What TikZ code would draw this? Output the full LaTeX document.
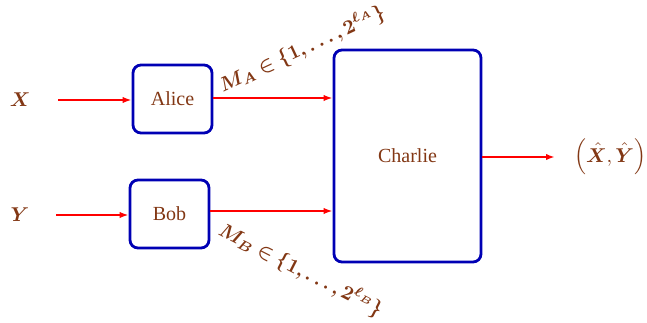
\documentclass[tikz,border=0pt]{standalone}
\usepackage{amsmath,bm}
\usepackage{fontspec}
\setmainfont{Liberation Serif}
\usetikzlibrary{arrows.meta}
\definecolor{txtbrown}{RGB}{130,55,20}
\definecolor{boxblue}{RGB}{0,0,180}
\begin{document}
\begin{tikzpicture}[x=0.5pt,y=-0.5pt,
  blk/.style={draw=boxblue,line width=1.4pt,rounded corners=4pt,text=txtbrown,inner sep=0pt},
  lbl/.style={text=txtbrown,inner sep=1pt},
  arr/.style={draw=red,line width=1.4pt,-{Latex[length=4.5pt,width=3.2pt]}}]
\useasboundingbox (0,0) rectangle (647,322);
\node[blk,minimum width=39.5pt,minimum height=34pt] (alice) at (172.5,99) {Alice};
\node[blk,minimum width=39.5pt,minimum height=34pt] (bob) at (169.5,214) {Bob};
\node[blk,minimum width=73.5pt,minimum height=106pt] (charlie) at (407.5,156) {Charlie};
\node[lbl] (x) at (20,100) {$\bm{X}$};
\node[lbl] (y) at (20,215) {$\bm{Y}$};
\coordinate (xs) at (58,100);
\coordinate (ys) at (56,215);
\coordinate (oe) at (555,157);
\node[lbl] (out) at (610,157) {$\Bigl(\bm{\hat{X}},\bm{\hat{Y}}\Bigr)$};
\draw[arr] (xs) -- (alice.west |- xs);
\draw[arr] (ys) -- (bob.west |- ys);
\draw[arr] ([yshift=0.5pt]alice.east) -- ([yshift=0.5pt]alice.east -| charlie.west);
\draw[arr] ([yshift=1.5pt]bob.east) -- ([yshift=1.5pt]bob.east -| charlie.west);
\draw[arr] (charlie.east |- oe) -- (oe);
\node[lbl,rotate=25] (ma) at (302,49) {$\bm{M_A\in\{1,\ldots,2^{\ell_A}\}}$};
\node[lbl,rotate=-27] (mb) at (301,270) {$\bm{M_B\in\{1,\ldots,2^{\ell_B}\}}$};
\end{tikzpicture}
\end{document}
